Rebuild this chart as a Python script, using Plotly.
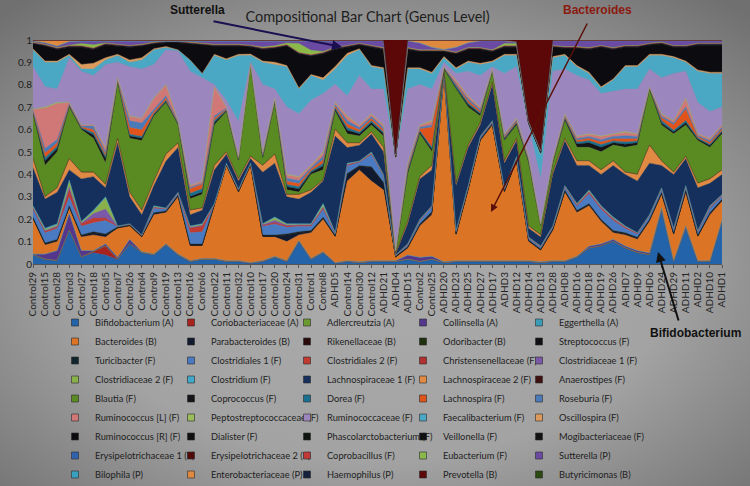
import base64
import plotly.graph_objects as go

samples = ["Control29","Control15","Control28","Control3","Control27","Control18","Control5","Control7","Control26","Control4",
           "Control9","Control19","Control13","Control16","Control6","Control22","Control11","Control32","Control10","Control17",
           "Control20","Control24","Control31","Control1","Control8","ADHD5","Control14","Control30","Control12","ADHD21",
           "ADHD4","ADHD15","Control2","Control25","ADHD20","ADHD23","ADHD25","ADHD27","ADHD17","ADHD3",
           "ADHD12","ADHD14","ADHD13","ADHD28","ADHD8","ADHD16","ADHD18","ADHD19","ADHD26","ADHD7",
           "ADHD9","ADHD6","ADHD24","ADHD29","ADHD11","ADHD2","ADHD10","ADHD1"]

bifidobacterium = [.04,.02,.015,.15,.03,.05,.04,.02,.09,.05, .04,.085,.04,.01,.02,.02,.01,.01,.003,.01,
                   .03,.01,.10,.02,.05,.003,.01,.005,.01, .01,.01,.02,.01,.02,.005,.01,.01,.01,.01,
                   .01,.01,.01,.005,.01,.01,.03,.07,.08,.10, .07,.05,.04,.24,.01,.16,.01,.01,.19]
coriobacteriaceae = [.001,.001,.001,.001,.001,.005,.04,.001,.001,.001, .001,.001,.001,.001,.001,.001,.001,.001,.001,.001,
                     .001,.001,.001,.001,.001,.001,.001,.001,.001,.001, .001,.001,.001,.001,.001,.001,.001,.001,.001,.001,
                     .001,.001,.001,.001,.001,.001,.001,.001,.001,.001, .001,.001,.001,.001,.001,.001,.001,.001]
adlercreutzia = [.001,.001,.001,.001,.001,.001,.001,.001,.001,.001, .001,.001,.001,.001,.001,.001,.001,.001,.001,.001,
                 .001,.001,.001,.001,.001,.001,.001,.001,.001,.001, .001,.001,.001,.001,.001,.001,.001,.001,.001,.001,
                 .001,.001,.001,.001,.001,.001,.001,.001,.001,.001, .001,.001,.001,.001,.001,.001,.001,.001]
collinsella = [.002,.022,.042,.072,.027,.003,.008,.007,.017,.002, .002,.002,.002,.002,.002,.002,.002,.002,0,.002,
               .002,.002,.002,.002,.002,0,.002,.002,.002, .002,.002,.017,.017,.012,.002,.002,.002,.002,.002,
               .002,.002,.002,.002,.002,.002,.002,.007,.007,.007, .007,.007,.007,.007,.002,.007,.002,.002,.002]
eggerthella = [.001,.001,.001,.001,.001,.001,.001,.001,.001,.001, .001,.001,.001,.001,.001,.001,.001,.001,.001,.001,
               .001,.001,.001,.001,.001,.001,.001,.001,.001,.001, .001,.001,.001,.001,.001,.001,.001,.001,.001,.001,
               .001,.001,.001,.001,.001,.001,.001,.001,.001,.001, .001,.001,.001,.001,.001,.001,.001,.001]
bacteroides = [.155,.04,.04,.025,.06,.07,.03,.13,.06,.065, .175,.14,.255,.065,.055,.235,.425,.305,.435,.105,
               .085,.085,.025,.115,.145,.115,.355,.41,.355, .315,.015,.03,.14,.185,.84,.115,.315,.535,.605,
               .305,.445,.085,.05,.135,.305,.195,.18,.10,.03, .05,.05,.14,.06,.115,.15,.105,.205,.085]
parabacteroides = [.005,.005,.005,.005,.005,.01,.01,.001,.001,.001, .005,.003,.003,.005,.005,.001,.001,.002,.001,.005,
                   .005,.03,.01,.005,.005,.003,.03,.015,.06, .03,.001,.003,.005,.01,0,.003,.003,.003,.003,
                   .003,.003,.003,.003,.003,.005,.005,.005,.005,.005, .005,.005,.005,.005,.005,.005,.005,.005,.005]
rikenellaceae = [.001,.001,.001,.001,.001,.001,.001,.001,.001,.001, .001,.001,.001,.001,.001,.001,.001,.001,.001,.001,
                 .001,.001,.001,.001,.001,.001,.001,.001,.001,.001, .001,.001,.001,.001,.001,.001,.001,.001,.001,.001,
                 .001,.001,.001,.001,.001,.001,.001,.001,.001,.001, .001,.001,.001,.001,.001,.001,.001,.001]
odoribacter = [.001,.001,.001,.001,.001,.001,.001,.001,.001,.001, .001,.001,.001,.001,.001,.001,.001,.001,.001,.001,
               .001,.001,.001,.001,.001,.001,.001,.001,.001,.001, .001,.001,.001,.001,.001,.001,.001,.001,.001,.001,
               .001,.001,.001,.001,.001,.001,.001,.001,.001,.001, .001,.001,.001,.001,.001,.001,.001,.001]
streptococcus = [.001,.001,.001,.001,.001,.001,.001,.001,.001,.001, .001,.001,.001,.001,.001,.001,.001,.001,.001,.001,
                 .001,.001,.001,.001,.001,.001,.001,.001,.001,.001, .001,.001,.001,.001,.001,.001,.001,.001,.001,.001,
                 .001,.001,.001,.001,.001,.001,.001,.001,.001,.001, .001,.001,.001,.001,.001,.001,.001,.001]
turicibacter = [.001,.001,.001,.001,.001,.001,.001,.001,.001,.001, .001,.001,.001,.001,.001,.001,.001,.001,.001,.001,
                .001,.001,.001,.001,.001,.001,.001,.001,.001,.001, .001,.001,.001,.001,.001,.001,.001,.001,.001,.001,
                .001,.001,.001,.001,.001,.001,.001,.001,.001,.001, .001,.001,.001,.001,.001,.001,.001,.001]
clostridiales_1 = [.035,.045,.05,.04,.04,.04,.06,.002,.002,.002, .02,.008,.008,.05,.055,.002,.002,.005,.002,.04,
                   .05,.03,.025,.02,.035,.008,.035,.015,.055, .03,.002,.008,.015,.02,0,.008,.008,.008,.008,
                   .008,.008,.008,.008,.008,.015,.02,.045,.045,.045, .02,.015,.015,.015,.015,.015,.015,.02,.015]
clostridiales_2 = [.005,.005,.005,.03,.01,.02,.01,.001,.001,.001, .003,.001,.001,.02,.025,.001,.001,.001,.001,.003,
                   .005,.005,.003,.003,.005,.001,.003,.002,.004, .002,.001,.001,.002,.002,0,.001,.001,.001,.001,
                   .001,.001,.001,.001,.001,.002,.003,.005,.005,.005, .003,.002,.002,.002,.002,.002,.002,.003,.002]
christensenellaceae = [.001,.001,.001,.001,.001,.001,.001,.001,.001,.001, .001,.001,.001,.001,.001,.001,.001,.001,.001,.001,
                       .001,.001,.001,.001,.001,.001,.001,.001,.001,.001, .001,.001,.001,.001,.001,.001,.001,.001,.001,.001,
                       .001,.001,.001,.001,.001,.001,.001,.001,.001,.001, .001,.001,.001,.001,.001,.001,.001,.001]
clostridiaceae_1 = [.003,.005,.005,.015,.003,.02,.04,0,0,0, .002,.001,.001,.004,.004,0,0,.001,0,.003,
                    .01,.004,.003,.003,.005,.001,.003,.001,.002, .001,0,.001,.001,.001,0,.001,.001,.001,.001,
                    .001,.001,.001,.001,.001,.001,.003,.004,.004,.004, .003,.001,.001,.001,.001,.001,.001,.003,.001]
clostridiaceae_2 = [.004,.005,.005,.025,.004,.01,.05,0,0,0, .003,.001,.001,.003,.003,0,0,0,0,.002,
                    .01,.003,.002,.002,.01,.001,.002,.001,.002, .001,0,.001,.001,.001,0,.001,.001,.001,.001,
                    .001,.001,.001,.001,.001,.001,.002,.004,.004,.004, .002,.001,.001,.001,.001,.001,.001,.002,.001]
clostridium = [.003,.005,.005,.005,.003,.005,.005,.001,.001,.001, .002,.001,.001,.003,.003,.001,.001,.001,.001,.002,
               .005,.003,.002,.002,.005,.001,.002,.001,.002, .001,.001,.001,.001,.001,0,.001,.001,.001,.001,
               .001,.001,.001,.001,.001,.001,.002,.002,.002,.002, .002,.001,.001,.001,.001,.001,.001,.002,.001]
lachnospiraceae_1 = [.17,.13,.14,.045,.19,.15,.04,.37,.12,.09, .09,.21,.20,.05,.06,.15,.04,.035,.02,.23,
                     .24,.12,.11,.14,.10,.43,.07,.07,.08, .10,.005,.09,.18,.16,.005,.20,.17,.05,.16,
                     .11,.07,.04,.04,.23,.20,.17,.11,.14,.23, .23,.23,.23,.10,.24,.12,.19,.10,.09]
lachnospiraceae_2 = [.04,.01,.02,.05,.03,.02,.015,.02,.02,.02, .02,.03,.02,.02,.01,.02,.01,.01,.01,.03,
                     .04,.01,.02,.01,.005,.03,.02,.01,.01, .02,.002,.01,.01,.02,.005,.01,.01,.01,.01,
                     .01,.01,.01,.01,.01,.01,.02,.02,.02,.02, .01,.03,.08,.02,.01,.01,.02,.02,.02]
anaerostipes = [.001,.001,.001,.001,.001,.001,.001,.001,.001,.001, .001,.001,.001,.001,.001,.001,.001,.001,.001,.001,
                .001,.001,.001,.001,.001,.001,.001,.001,.001,.001, .001,.001,.001,.001,.001,.001,.001,.001,.001,.001,
                .001,.001,.001,.001,.001,.001,.001,.001,.001,.001, .001,.001,.001,.001,.001,.001,.001,.001]
blautia = [.20,.14,.16,.23,.19,.15,.095,.25,.24,.31, .29,.23,.08,.05,.06,.18,.18,.08,.41,.03,
           .23,.02,.01,.07,.045,.08,.04,.03,.03, .05,.003,.21,.19,.06,.005,.42,.17,.03,.05,
           .09,.06,.28,.04,.04,.08,.06,.06,.08,.07, .11,.13,.25,.16,.17,.14,.19,.14,.16]
coprococcus = [.004,.02,.015,.004,.004,.015,.02,.004,.01,.01, .005,.005,.004,.01,.01,.01,.004,.004,.001,.006,
               .004,.014,.014,.008,.016,.008,.016,.01,.01, .01,.002,.01,.008,.01,.002,.005,.01,.008,.002,
               .006,.006,.006,.002,.004,.006,.015,.02,.02,.01, .014,.01,.002,.008,.008,.01,.006,.008,.008]
dorea = [.003,.015,.01,.003,.003,.01,.01,.003,.008,.008, .005,.005,.003,.015,.015,.01,.003,.003,.001,.005,
         .003,.01,.01,.006,.012,.006,.012,.008,.008, .008,.002,.008,.006,.01,.002,.01,.008,.006,.002,
         .005,.005,.005,.002,.003,.005,.008,.01,.012,.008, .01,.008,.002,.012,.008,.01,.005,.006,.006]
lachnospira = [.004,.02,.015,.004,.004,.015,.01,.004,.03,.03, .01,.01,.004,.02,.02,.01,.004,.004,.001,.006,
               .004,.014,.014,.008,.016,.008,.016,.01,.01, .01,.002,.01,.008,.09,.002,.005,.01,.008,.002,
               .006,.006,.006,.002,.004,.006,.008,.01,.012,.01, .014,.01,.002,.012,.025,.05,.006,.008,.008]
roseburia = [.004,.02,.015,.004,.004,.015,.01,.004,.03,.03, .01,.01,.004,.005,.005,.01,.004,.004,.001,.006,
             .004,.014,.014,.008,.016,.008,.016,.01,.01, .01,.002,.01,.008,.01,.002,.005,.01,.008,.002,
             .006,.006,.006,.002,.004,.006,.008,.008,.01,.01, .014,.01,.002,.008,.008,.01,.006,.008,.008]
ruminococcus_l = [.004,.18,.16,.004,.004,.004,.018,.004,.02,.02, .048,.048,.004,.008,.008,.13,.004,.004,.001,.006,
                  .004,.014,.014,.008,.016,.008,.016,.01,.01, .01,.002,.01,.008,.015,.002,.013,.01,.008,.002,
                  .006,.006,.006,.002,.004,.006,.009,.01,.014,.01, .014,.01,.002,.008,.009,.038,.006,.008,.008]
peptostreptococcaceae = [.001,.005,.005,.001,.001,.001,.002,.001,.002,.002, .002,.002,.001,.002,.002,0,.001,.001,0,.001,
                         .001,.004,.004,.002,.004,.002,.004,.002,.002, .002,0,.002,.002,.005,0,.002,.002,.002,0,
                         .001,.001,.001,0,.001,.001,.002,.002,.002,.002, .004,.002,0,.002,.002,.002,.001,.002,.002]
ruminococcaceae = [.19,.09,.06,.20,.24,.22,.37,.07,.22,.22, .15,.155,.31,.51,.46,.01,.03,.155,.005,.30,
                   .04,.30,.28,.29,.26,.08,.09,.22,.11, .16,.41,.33,.18,.14,.02,.03,.11,.14,.01,
                   .27,.23,.14,.20,.39,.20,.27,.24,.19,.19, .19,.20,.08,.16,.21,.12,.14,.12,.08]
faecalibacterium = [.075,.11,.12,.01,.01,.03,.02,.03,.02,.04, .065,.01,.005,.05,.02,.13,.18,.295,.03,.10,
                    .11,.18,.11,.11,.06,.07,.18,.115,.10, .09,.002,.09,.07,.07,.02,.02,.04,.05,.02,
                    .08,.05,.005,.11,.06,.06,.04,.03,.025,.05, .10,.10,.06,.10,.07,.04,.14,.17,.15]
oscillospira = [.005,.005,.005,.005,.02,.025,.01,.005,.01,.01, .005,.005,0,0,0,.005,.005,.005,.005,.005,
                .01,.005,.005,.005,.01,.01,.01,.005,.005, .005,0,.005,.005,.005,.005,.005,.005,.005,.005,
                .005,.005,0,0,.005,.005,.005,.005,.005,.005, .005,.005,.005,.005,.005,.005,.005,.005,.005]
ruminococcus_r = [.021,.066,.051,.031,.076,.061,.056,.036,.056,.051, .021,.016,.031,.071,.126,.036,.056,.036,.031,.051,
                  .061,.086,.151,.081,.106,.076,.026,.016,.081, .081,.004,.081,.071,.091,.021,.061,.051,.061,.041,
                  .031,.031,.001,.006,.041,.026,.076,.101,.176,.131, .081,.081,.041,.046,.041,.061,.111,.121,.121]
dialister = [.001,.001,.001,.001,.001,.001,.001,.001,.001,.001, .001,.001,.001,.001,.001,.001,.001,.001,.001,.001,
             .001,.001,.001,.001,.001,.001,.001,.001,.001,.001, .001,.001,.001,.001,.001,.001,.001,.001,.001,.001,
             .001,.001,.001,.001,.001,.001,.001,.001,.001,.001, .001,.001,.001,.001,.001,.001,.001,.001]
phascolarctobacterium = [.001,.001,.001,.001,.001,.001,.001,.001,.001,.001, .001,.001,.001,.001,.001,.001,.001,.001,.001,.001,
                         .001,.001,.001,.001,.001,.001,.001,.001,.001,.001, .001,.001,.001,.001,.001,.001,.001,.001,.001,.001,
                         .001,.001,.001,.001,.001,.001,.001,.001,.001,.001, .001,.001,.001,.001,.001,.001,.001,.001]
veillonella = [.001,.001,.001,.001,.001,.001,.001,.001,.001,.001, .001,.001,.001,.001,.001,.001,.001,.001,.001,.001,
               .001,.001,.001,.001,.001,.001,.001,.001,.001,.001, .001,.001,.001,.001,.001,.001,.001,.001,.001,.001,
               .001,.001,.001,.001,.001,.001,.001,.001,.001,.001, .001,.001,.001,.001,.001,.001,.001,.001]
mogibacteriaceae = [.001,.001,.001,.001,.001,.001,.001,.001,.001,.001, .001,.001,.001,.001,.001,.001,.001,.001,.001,.001,
                    .001,.001,.001,.001,.001,.001,.001,.001,.001,.001, .001,.001,.001,.001,.001,.001,.001,.001,.001,.001,
                    .001,.001,.001,.001,.001,.001,.001,.001,.001,.001, .001,.001,.001,.001,.001,.001,.001,.001]
erysipelotrichaceae_1 = [.001,.001,.001,.001,.001,.001,.001,.001,.001,.001, .001,.001,.001,.001,.001,.001,.001,.001,.001,.001,
                         .001,.001,.001,.001,.001,.001,.001,.001,.001,.001, .001,.001,.001,.001,.001,.001,.001,.001,.001,.001,
                         .001,.001,.001,.001,.001,.001,.001,.001,.001,.001, .001,.001,.001,.001,.001,.001,.001,.001]
erysipelotrichaceae_2 = [.001,.001,.001,.001,.001,.001,.001,.001,.001,.001, .001,.001,.001,.001,.001,.001,.001,.001,.001,.001,
                         .001,.001,.001,.001,.001,.001,.001,.001,.001,.001, .001,.001,.001,.001,.001,.001,.001,.001,.001,.001,
                         .001,.001,.001,.001,.001,.001,.001,.001,.001,.001, .001,.001,.001,.001,.001,.001,.001,.001]
coprobacillus = [.001,.001,.001,.001,.001,.001,.001,.001,.001,.001, .001,.001,.001,.001,.001,.001,.001,.001,.001,.001,
                 .001,.001,.001,.001,.001,.001,.001,.001,.001,.001, .001,.001,.001,.001,.001,.001,.001,.001,.001,.001,
                 .001,.001,.001,.001,.001,.001,.001,.001,.001,.001, .001,.001,.001,.001,.001,.001,.001,.001]
eubacterium = [.002,.002,.002,.003,.01,.015,.003,.002,.002,.002, .002,.001,.001,.002,.002,.002,.002,.002,.002,.005,
               .005,.008,.04,.02,.005,.003,.002,.002,.002, .002,.001,.002,.002,.002,.002,.002,.003,.002,.002,
               .01,.01,.001,.001,.002,.002,.002,.002,.002,.002, .002,.002,.002,.002,.002,.002,.002,.002,.002]
sutterella = [.004,.006,.006,.015,.01,.015,.008,.014,.019,.014, .004,.001,.001,.004,.009,.014,.014,.014,.019,.026,
              .021,.008,.011,.041,.046,.028,.019,.009,.019, .029,.002,.029,.03,.011,.001,.021,.02,.029,.039,
              .011,.005,.002,.002,.019,.024,.024,.029,.019,.029, .019,.019,.009,.004,.019,.019,.009,.009,.009]
bilophila = [.001,.001,.001,.001,.001,.001,.001,.001,.001,.001, .001,.001,.001,.001,.001,.001,.001,.001,.001,.001,
             .001,.001,.001,.001,.001,.001,.001,.001,.001,.001, .001,.001,.001,.001,.001,.001,.001,.001,.001,.001,
             .001,.001,.001,.001,.001,.001,.001,.001,.001,.001, .001,.001,.001,.001,.001,.001,.001,.001]
enterobacteriaceae = [.002,.01,.025,.005,.003,.003,.002,.002,.002,.002, .002,.001,.001,.002,.002,.002,.002,.002,.002,.002,
                      .002,.002,.002,.002,.002,.002,.002,.002,.002, .002,.001,.002,.011,.03,.04,.03,.01,.002,.002,
                      .002,.002,.001,.001,.002,.002,.002,.002,.002,.002, .002,.002,.002,.002,.002,.002,.002,.002,.002]
haemophilus = [.001,.001,.001,.001,.001,.001,.001,.001,.001,.001, .001,.001,.001,.001,.001,.001,.001,.001,.001,.001,
               .001,.001,.001,.001,.001,.001,.001,.001,.001,.001, .001,.001,.001,.001,.001,.001,.001,.001,.001,.001,
               .001,.001,.001,.001,.001,.001,.001,.001,.001,.001, .001,.001,.001,.001,.001,.001,.001,.001]
prevotella = [.001,.001,.001,.001,.001,.001,.001,.001,.001,.001, .001,.001,.001,.001,.001,.001,.001,.001,.001,.001,
              .001,.001,.001,.001,.001,.001,.001,.001,.001, .001,.51,.001,.001,.001,.001,.001,.001,.001,.001,
              .001,.007,.36,.49,.001,.001,.001,.001,.001,.001, .001,.001,.001,.001,.001,.001,.001,.001,.001]
butyricimonas = [.001,.001,.001,.001,.001,.001,.001,.001,.001,.001, .001,.001,.001,.001,.001,.001,.001,.001,.001,.001,
                 .001,.001,.001,.001,.001,.001,.001,.001,.001,.001, .001,.001,.001,.001,.001,.001,.001,.001,.001,.001,
                 .001,.001,.001,.001,.001,.001,.001,.001,.001,.001, .001,.001,.001,.001,.001,.001,.001,.001]

series = [
    ("Bifidobacterium (A)", bifidobacterium, "#2263aa"),
    ("Coriobacteriaceae (A)", coriobacteriaceae, "#a8221e"),
    ("Adlercreutzia (A)", adlercreutzia, "#6b9a30"),
    ("Collinsella (A)", collinsella, "#54368c"),
    ("Eggerthella (A)", eggerthella, "#3b9cb8"),
    ("Bacteroides (B)", bacteroides, "#dc7426"),
    ("Parabacteroides (B)", parabacteroides, "#111a2e"),
    ("Rikenellaceae (B)", rikenellaceae, "#2a0a0a"),
    ("Odoribacter (B)", odoribacter, "#1f300f"),
    ("Streptococcus (F)", streptococcus, "#0f0f14"),
    ("Turicibacter (F)", turicibacter, "#10262c"),
    ("Clostridiales 1 (F)", clostridiales_1, "#4a7bc2"),
    ("Clostridiales 2 (F)", clostridiales_2, "#c03a30"),
    ("Christensenellaceae (F)", christensenellaceae, "#b33030"),
    ("Clostridiaceae 1 (F)", clostridiaceae_1, "#7a5aa8"),
    ("Clostridiaceae 2 (F)", clostridiaceae_2, "#8ab04a"),
    ("Clostridium (F)", clostridium, "#40a8c8"),
    ("Lachnospiraceae 1 (F)", lachnospiraceae_1, "#15305c"),
    ("Lachnospiraceae 2 (F)", lachnospiraceae_2, "#e08a44"),
    ("Anaerostipes (F)", anaerostipes, "#401010"),
    ("Blautia (F)", blautia, "#5a8a22"),
    ("Coprococcus (F)", coprococcus, "#141418"),
    ("Dorea (F)", dorea, "#1a7090"),
    ("Lachnospira (F)", lachnospira, "#e0541c"),
    ("Roseburia (F)", roseburia, "#4a7ab8"),
    ("Ruminococcus [L] (F)", ruminococcus_l, "#d07878"),
    ("Peptostreptococcaceae (F)", peptostreptococcaceae, "#9abc5a"),
    ("Ruminococcaceae (F)", ruminococcaceae, "#9b86be"),
    ("Faecalibacterium (F)", faecalibacterium, "#4aa8c4"),
    ("Oscillospira (F)", oscillospira, "#dc9a5c"),
    ("Ruminococcus [R] (F)", ruminococcus_r, "#0c0c10"),
    ("Dialister (F)", dialister, "#101010"),
    ("Phascolarctobacterium (F)", phascolarctobacterium, "#0f1410"),
    ("Veillonella (F)", veillonella, "#101010"),
    ("Mogibacteriaceae (F)", mogibacteriaceae, "#121212"),
    ("Erysipelotrichaceae 1 (F)", erysipelotrichaceae_1, "#3062b0"),
    ("Erysipelotrichaceae 2 (F)", erysipelotrichaceae_2, "#500a0a"),
    ("Coprobacillus (F)", coprobacillus, "#c03838"),
    ("Eubacterium (F)", eubacterium, "#8ab84a"),
    ("Sutterella (P)", sutterella, "#6a4aa2"),
    ("Bilophila (P)", bilophila, "#3aa0c0"),
    ("Enterobacteriaceae (P)", enterobacteriaceae, "#e08a40"),
    ("Haemophilus (P)", haemophilus, "#14203c"),
    ("Prevotella (B)", prevotella, "#5c0808"),
    ("Butyricimonas (B)", butyricimonas, "#2a4a10"),
]
N_COLS = 5

fig = go.Figure()
for name, vals, col in series:
    fig.add_trace(go.Scatter(x=samples, y=vals, name=name, mode="lines", stackgroup="one",
                             line=dict(width=0.4, color=col), fillcolor=col, showlegend=False,
                             hoverinfo="x+y+name"))

def legend_marker(name, col, legend):
    return go.Scatter(x=[None], y=[None], name=name, mode="markers", legend=legend,
                      marker=dict(symbol="square", size=7, color=col, line=dict(width=0.6, color="#2a2a2a")),
                      showlegend=True, hoverinfo="skip")

last_col = []
for k, (name, vals, col) in enumerate(series):
    if k % N_COLS < N_COLS - 1:
        fig.add_trace(legend_marker(name, col, "legend"))
    else:
        # keep the slot in the 5-column grid, draw the entry itself in a second (vertical) legend
        fig.add_trace(go.Scatter(x=[None], y=[None], name=" ", mode="markers", legend="legend",
                                 marker=dict(symbol="square", size=7, opacity=0), showlegend=True,
                                 hoverinfo="skip"))
        last_col.append((name, col))
for name, col in last_col:
    fig.add_trace(legend_marker(name, col, "legend2"))

svg = ('<svg xmlns="http://www.w3.org/2000/svg" width="750" height="486" preserveAspectRatio="none">'
       '<defs><radialGradient id="g" cx="50%" cy="55%" r="72%">'
       '<stop offset="0%" stop-color="#ababab"/><stop offset="55%" stop-color="#a3a3a3"/>'
       '<stop offset="100%" stop-color="#707070"/></radialGradient></defs>'
       '<rect width="750" height="486" fill="url(#g)"/></svg>')
svg_uri = "data:image/svg+xml;base64," + base64.b64encode(svg.encode()).decode()

L, R, T, B = 33, 28, 40, 222
PW, PH = 750 - L - R, 486 - T - B
LEG_X0, PITCH, LEG_TOP = 55, 116, 308
leg_font = dict(size=9.3, color="#1e1e1e")

fig.update_layout(
    width=750, height=486,
    margin=dict(l=L, r=R, t=T, b=B, autoexpand=False),
    paper_bgcolor="#a4a4a4", plot_bgcolor="rgba(0,0,0,0)",
    font=dict(family="Lato, Open Sans, sans-serif", size=10, color="#1e1e1e"),
    title=dict(text="Compositional Bar Chart (Genus Level)", x=0.49, xref="container", xanchor="center",
               y=1 - 17 / 486, yref="container", yanchor="middle",
               font=dict(family="Lato, Open Sans, sans-serif", size=14.5, color="#1e1e1e")),
    xaxis=dict(type="category", range=[0, len(samples) - 1], tickmode="linear", tick0=0, dtick=1,
               tickangle=-90, tickfont=dict(size=10, color="#222222"), showgrid=False,
               ticks="outside", ticklen=3, tickcolor="#555555", showline=True, linecolor="#555555",
               zeroline=False, automargin=False),
    yaxis=dict(range=[0, 1], dtick=0.1, showgrid=False, zeroline=False, ticks="",
               tickfont=dict(size=10, color="#222222"), showline=False, automargin=False),
    legend=dict(orientation="h", x=(LEG_X0 - L) / PW, xanchor="left", y=(264 - LEG_TOP) / PH, yanchor="top",
                entrywidth=PITCH - 45, entrywidthmode="pixels", traceorder="normal",
                font=leg_font, bgcolor="rgba(0,0,0,0)", itemwidth=30),
    legend2=dict(orientation="v", x=(LEG_X0 + (N_COLS - 1) * PITCH - L) / PW, xanchor="left",
                 y=(264 - LEG_TOP) / PH, yanchor="top", traceorder="normal",
                 font=leg_font, bgcolor="rgba(0,0,0,0)", itemwidth=30),
    showlegend=True,
    images=[dict(source=svg_uri, xref="paper", yref="paper", x=-L / PW, y=1 + T / PH,
                 sizex=750 / PW, sizey=486 / PH, sizing="stretch", xanchor="left", yanchor="top",
                 layer="below")],
)

ann_font = dict(family="Liberation Sans, Arial, sans-serif", size=12)
fig.add_annotation(text="<b>Sutterella</b>", xref="paper", yref="paper", x=(197 - L) / PW, y=(264 - 10) / PH,
                   xanchor="center", yanchor="middle", showarrow=False, font=dict(color="#111111", **ann_font))
fig.add_annotation(text="<b>Bacteroides</b>", xref="paper", yref="paper", x=(597 - L) / PW, y=(264 - 10) / PH,
                   xanchor="center", yanchor="middle", showarrow=False, font=dict(color="#8b1a10", **ann_font))
fig.add_annotation(text="<b>Bifidobacterium</b>", xref="paper", yref="paper", x=(695 - L) / PW, y=(264 - 333) / PH,
                   xanchor="center", yanchor="middle", showarrow=False, font=dict(color="#111111", **ann_font))
fig.add_annotation(text="", xref="paper", yref="paper", x=(342 - L) / PW, y=(264 - 47) / PH, ax=-130, ay=-26,
                   showarrow=True, arrowhead=2, arrowsize=1, arrowwidth=2, arrowcolor="#1a1050")
fig.add_annotation(text="", xref="paper", yref="paper", x=(491 - L) / PW, y=(264 - 212) / PH, ax=97, ay=-190,
                   showarrow=True, arrowhead=2, arrowsize=1, arrowwidth=1.5, arrowcolor="#5a1008")
fig.add_annotation(text="", xref="paper", yref="paper", x=(658 - L) / PW, y=(264 - 252) / PH, ax=21, ay=70,
                   showarrow=True, arrowhead=2, arrowsize=1, arrowwidth=2, arrowcolor="#111111")

fig.write_html("out.html", config={"displayModeBar": False},
               post_script="document.body.style.margin='0px';")
